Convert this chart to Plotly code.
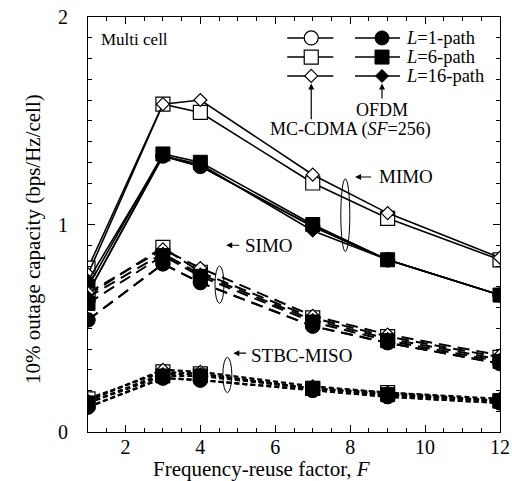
import plotly.graph_objects as go

F = [1, 3, 4, 7, 9, 12]

# MIMO
mimo_mc_l1 = [0.67, 1.33, 1.28, 0.99, 0.83, 0.66]
mimo_mc_l6 = [0.79, 1.58, 1.54, 1.20, 1.03, 0.83]
mimo_mc_l16 = [0.76, 1.58, 1.60, 1.24, 1.055, 0.84]
mimo_of_l1 = [0.67, 1.33, 1.28, 0.99, 0.83, 0.66]
mimo_of_l6 = [0.70, 1.34, 1.30, 1.00, 0.83, 0.66]
mimo_of_l16 = [0.73, 1.33, 1.29, 0.97, 0.83, 0.66]

# SIMO
simo_mc_l1 = [0.54, 0.81, 0.72, 0.51, 0.43, 0.33]
simo_mc_l6 = [0.66, 0.89, 0.77, 0.55, 0.46, 0.36]
simo_mc_l16 = [0.67, 0.88, 0.79, 0.56, 0.47, 0.37]
simo_of_l1 = [0.54, 0.81, 0.72, 0.51, 0.43, 0.33]
simo_of_l6 = [0.62, 0.85, 0.75, 0.53, 0.44, 0.34]
simo_of_l16 = [0.65, 0.86, 0.76, 0.54, 0.45, 0.35]

# STBC-MISO
miso_mc_l1 = [0.12, 0.26, 0.25, 0.20, 0.17, 0.14]
miso_mc_l6 = [0.16, 0.29, 0.28, 0.21, 0.19, 0.15]
miso_mc_l16 = [0.15, 0.30, 0.29, 0.22, 0.19, 0.16]
miso_of_l1 = [0.12, 0.26, 0.25, 0.20, 0.17, 0.14]
miso_of_l6 = [0.14, 0.27, 0.27, 0.21, 0.18, 0.15]
miso_of_l16 = [0.14, 0.28, 0.28, 0.21, 0.18, 0.15]

legend_labels = ["<i>L</i>=1-path", "<i>L</i>=6-path", "<i>L</i>=16-path"]

FONT = "Liberation Serif, Times New Roman, serif"
fig = go.Figure()

groups = [
    ((mimo_mc_l1, mimo_mc_l6, mimo_mc_l16), (mimo_of_l1, mimo_of_l6, mimo_of_l16), dict(width=1.6)),
    ((simo_mc_l1, simo_mc_l6, simo_mc_l16), (simo_of_l1, simo_of_l6, simo_of_l16), dict(width=2, dash="12px,7px")),
    ((miso_mc_l1, miso_mc_l6, miso_mc_l16), (miso_of_l1, miso_of_l6, miso_of_l16), dict(width=2.2, dash="5px,3px")),
]
symbols = ["circle", "square", "diamond"]
sizes = [14, 14, 10]

for mc, of, lstyle in groups:
    for ys, sym, sz in zip(mc, symbols, sizes):
        fig.add_trace(go.Scatter(x=F, y=ys, mode="lines+markers",
                                 line=dict(color="black", **lstyle),
                                 marker=dict(symbol=sym, size=sz, color="white",
                                             line=dict(color="black", width=1.2)),
                                 showlegend=False))
    for ys, sym, sz in zip(of, symbols, sizes):
        fig.add_trace(go.Scatter(x=F, y=ys, mode="lines+markers",
                                 line=dict(color="black", **lstyle),
                                 marker=dict(symbol=sym, size=sz, color="black",
                                             line=dict(color="black", width=1)),
                                 showlegend=False))

# custom legend (positions in data units)
leg_y = [1.899, 1.807, 1.716]
for yy, sym, sz, lab in zip(leg_y, symbols, sizes, legend_labels):
    fig.add_trace(go.Scatter(x=[6.32, 6.96, 7.55], y=[yy, yy, yy], mode="lines",
                             line=dict(color="black", width=1.6), showlegend=False))
    fig.add_trace(go.Scatter(x=[6.96], y=[yy], mode="markers",
                             marker=dict(symbol=sym, size=sz, color="white", line=dict(color="black", width=1.2)),
                             showlegend=False))
    fig.add_trace(go.Scatter(x=[8.13, 8.85, 9.33], y=[yy, yy, yy], mode="lines",
                             line=dict(color="black", width=1.6), showlegend=False))
    fig.add_trace(go.Scatter(x=[8.85], y=[yy], mode="markers",
                             marker=dict(symbol=sym, size=sz, color="black", line=dict(color="black", width=1)),
                             showlegend=False))
    fig.add_annotation(x=9.44, y=yy, text=lab, showarrow=False, xanchor="left", yanchor="middle",
                       font=dict(family=FONT, size=18.5, color="black"))

def arrow(x0, y0, x1, y1):
    fig.add_annotation(x=x1, y=y1, ax=x0, ay=y0, axref="x", ayref="y", xref="x", yref="y",
                       text="", showarrow=True, arrowhead=2, arrowsize=1, arrowwidth=1.2,
                       arrowcolor="black")

arrow(6.96, 1.50, 6.96, 1.68)
arrow(8.85, 1.60, 8.85, 1.68)
fig.add_annotation(x=8.85, y=1.553, text="OFDM", showarrow=False,
                   font=dict(family=FONT, size=18, color="black"))
fig.add_annotation(x=8.0, y=1.458, text="MC-CDMA (<i>SF</i>=256)", showarrow=False,
                   font=dict(family=FONT, size=18, color="black"))

# group labels
arrow(8.6, 1.229, 8.13, 1.229)
fig.add_annotation(x=8.72, y=1.229, text="MIMO", showarrow=False, xanchor="left",
                   font=dict(family=FONT, size=19, color="black"))
arrow(5.08, 0.90, 4.69, 0.90)
fig.add_annotation(x=5.13, y=0.90, text="SIMO", showarrow=False, xanchor="left",
                   font=dict(family=FONT, size=19, color="black"))
arrow(5.26, 0.38, 4.88, 0.38)
fig.add_annotation(x=5.31, y=0.37, text="STBC-MISO", showarrow=False, xanchor="left",
                   font=dict(family=FONT, size=19, color="black"))
fig.add_annotation(x=1.3, y=1.89, text="Multi cell", showarrow=False, xanchor="left",
                   font=dict(family=FONT, size=17, color="black"))

# axis titles as annotations (placed like the reference)
fig.add_annotation(x=5.63, y=0, xref="x", yref="paper", yshift=-37, yanchor="middle",
                   text="Frequency-reuse factor, <i>F</i>", showarrow=False,
                   font=dict(family=FONT, size=21, color="black"))
fig.add_annotation(x=0, y=0.93, xref="paper", yref="y", xshift=-55, xanchor="center",
                   textangle=-90, text="10% outage capacity (bps/Hz/cell)", showarrow=False,
                   font=dict(family=FONT, size=21, color="black"))

# ellipses
for xc, y0, y1 in [(7.87, 0.87, 1.22), (4.51, 0.62, 0.80), (4.72, 0.19, 0.36)]:
    fig.add_shape(type="circle", xref="x", yref="y", x0=xc - 0.12, x1=xc + 0.12, y0=y0, y1=y1,
                  line=dict(color="black", width=1))

axis_common = dict(showline=True, linecolor="black", linewidth=1.2, mirror="ticks",
                   ticks="inside", tickcolor="black", ticklen=7, tickwidth=1,
                   showgrid=False, zeroline=False, automargin=False,
                   tickfont=dict(family=FONT, size=20, color="black"))
fig.update_xaxes(range=[1, 12], dtick=2, tick0=0, ticklabelstandoff=-3,
                 minor=dict(dtick=0.5, ticks="inside", ticklen=4, tickcolor="black", showgrid=False),
                 **axis_common)
fig.update_yaxes(range=[0, 2], dtick=1, ticklabelstandoff=15,
                 minor=dict(dtick=0.1, ticks="inside", ticklen=4, tickcolor="black", showgrid=False),
                 **axis_common)

fig.update_layout(width=512, height=481,
                  margin=dict(l=88, r=12, t=17, b=49, autoexpand=False),
                  plot_bgcolor="white", paper_bgcolor="white", showlegend=False)

fig.write_html("out.html", config={"displayModeBar": False},
               post_script="document.body.style.margin='0';document.body.style.overflow='hidden';")
